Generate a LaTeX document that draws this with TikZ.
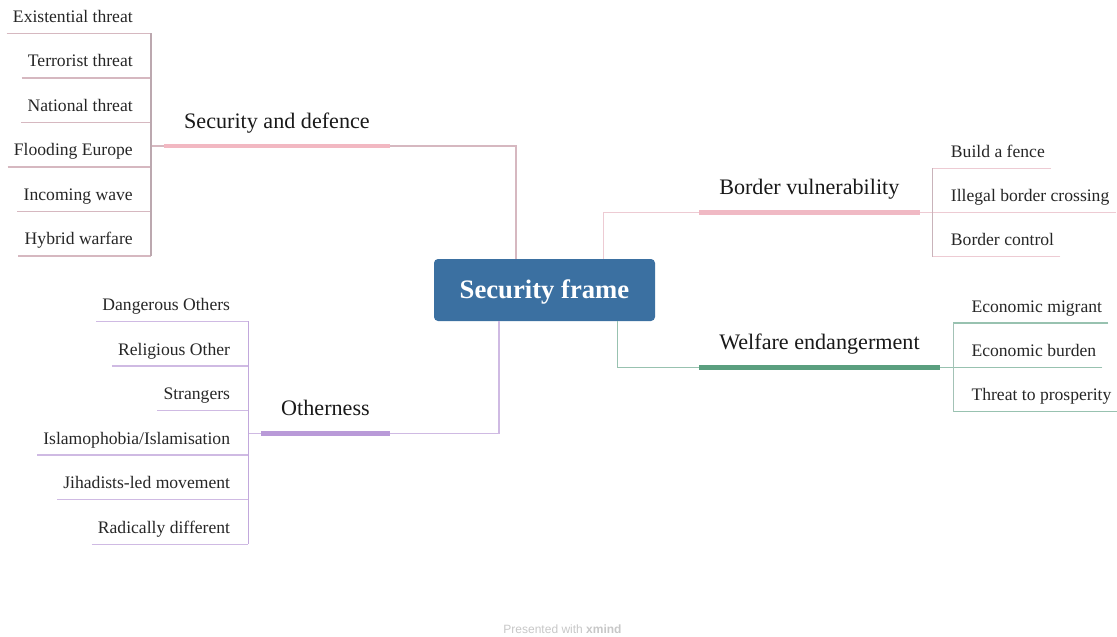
\documentclass[tikz,border=0pt]{standalone}
\usepackage{fontspec}
\setmainfont{Liberation Serif}
\setsansfont{Liberation Sans}

\definecolor{framebg}{HTML}{3B70A1}
\definecolor{sdbar}{HTML}{F2B8C2}
\definecolor{sdline}{HTML}{D6B8C0}
\definecolor{sdedge}{HTML}{BCA8AF}
\definecolor{bvbar}{HTML}{F0B9C4}
\definecolor{bvline}{HTML}{EDCBD3}
\definecolor{bvedge}{HTML}{C9B3BA}
\definecolor{webar}{HTML}{5A9F7F}
\definecolor{weline}{HTML}{98C2B0}
\definecolor{weedge}{HTML}{A3C2B6}
\definecolor{otbar}{HTML}{B99AD8}
\definecolor{otline}{HTML}{CFBAE3}
\definecolor{otedge}{HTML}{C2A8DC}

\begin{document}
\begin{tikzpicture}[x=0.75pt,y=-0.75pt,
  frame/.style={rectangle, rounded corners=3pt, fill=framebg, text=white,
    minimum width=165.75pt, minimum height=46.5pt,
    text height=12.4pt, text depth=0pt,
    font=\bfseries\fontsize{20}{24}\selectfont},
  topic/.style={inner xsep=15pt, inner ysep=0pt, minimum height=37.5pt,
    text height=11pt, text depth=0pt,
    text=black!90, font=\fontsize{16.6}{19}\selectfont},
  leaf/.style={inner xsep=4.5pt, inner ysep=0pt, minimum height=24.75pt,
    text height=8.9pt, text depth=0pt,
    text=black!85, font=\fontsize{13.2}{15}\selectfont},
  thin/.style={line width=1.1pt},
  bar/.style={line width=3.4pt}]
\useasboundingbox (0,0) rectangle (1117,636);

\node[frame] (frame) at (544.5,290) {Security frame};

% Security and defence
\coordinate (sdk) at (516,146);
\coordinate (sdj) at (151,146);
\node[topic, anchor=south east] (sd) at (390,146) {Security and defence};
\draw[thin, sdline] (frame.north -| sdk) -- (sdk) -- (sdj);
\draw[bar, sdbar] (sd.south west) -- (sd.south east);

\node[leaf, anchor=south east] (sd1) at (139,33.3) {Existential threat};
\node[leaf, anchor=south east] (sd2) at (139,77.8) {Terrorist threat};
\node[leaf, anchor=south east] (sd3) at (139,122.3) {National threat};
\node[leaf, anchor=south east] (sd4) at (139,166.8) {Flooding Europe};
\node[leaf, anchor=south east] (sd5) at (139,211.3) {Incoming wave};
\node[leaf, anchor=south east] (sd6) at (139,255.8) {Hybrid warfare};
\draw[thin, sdline] (sd1.south west) -- (sd1.south west -| sdj)
  (sd2.south west) -- (sd2.south west -| sdj)
  (sd3.south west) -- (sd3.south west -| sdj)
  (sd4.south west) -- (sd4.south west -| sdj)
  (sd5.south west) -- (sd5.south west -| sdj)
  (sd6.south west) -- (sd6.south west -| sdj);
\draw[thin, sdedge] (sd1.south west -| sdj) -- (sd6.south west -| sdj);

% Border vulnerability
\coordinate (bvk) at (603.3,212.5);
\coordinate (bvj) at (932.7,212.5);
\node[topic, anchor=south west] (bv) at (699,212.5) {Border vulnerability};
\draw[thin, bvline] (frame.north -| bvk) -- (bvk) -- (bvj);
\draw[bar, bvbar] (bv.south west) -- (bv.south east);

\node[leaf, anchor=south west] (bv1) at (944.7,168.3) {Build a fence};
\node[leaf, anchor=south west] (bv2) at (944.7,212.5) {Illegal border crossing};
\node[leaf, anchor=south west] (bv3) at (944.7,256.7) {Border control};
\draw[thin, bvline] (bv1.south east) -- (bv1.south east -| bvj)
  (bv2.south east) -- (bv2.south east -| bvj)
  (bv3.south east) -- (bv3.south east -| bvj);
\draw[thin, bvedge] (bv1.south east -| bvj) -- (bv3.south east -| bvj);

% Welfare endangerment
\coordinate (wek) at (617.7,367.3);
\coordinate (wej) at (953.3,367.3);
\node[topic, anchor=south west] (we) at (699,367.3) {Welfare endangerment};
\draw[thin, weline] (frame.south -| wek) -- (wek) -- (wej);
\draw[bar, webar] (we.south west) -- (we.south east);

\node[leaf, anchor=south west] (we1) at (965.3,322.9) {Economic migrant};
\node[leaf, anchor=south west] (we2) at (965.3,367.3) {Economic burden};
\node[leaf, anchor=south west] (we3) at (965.3,411.7) {Threat to prosperity};
\draw[thin, weline] (we1.south east) -- (we1.south east -| wej)
  (we2.south east) -- (we2.south east -| wej)
  (we3.south east) -- (we3.south east -| wej);
\draw[thin, weedge] (we1.south east -| wej) -- (we3.south east -| wej);

% Otherness
\coordinate (otk) at (499,433.7);
\coordinate (otj) at (248.3,433.7);
\node[topic, anchor=south east] (ot) at (390,433.7) {Otherness};
\draw[thin, otline] (frame.south -| otk) -- (otk) -- (otj);
\draw[bar, otbar] (ot.south west) -- (ot.south east);

\node[leaf, anchor=south east] (ot1) at (236.3,321.3) {Dangerous Others};
\node[leaf, anchor=south east] (ot2) at (236.3,365.9) {Religious Other};
\node[leaf, anchor=south east] (ot3) at (236.3,410.5) {Strangers};
\node[leaf, anchor=south east] (ot4) at (236.3,455.1) {Islamophobia/Islamisation};
\node[leaf, anchor=south east] (ot5) at (236.3,499.7) {Jihadists-led movement};
\node[leaf, anchor=south east] (ot6) at (236.3,544.3) {Radically different};
\draw[thin, otline] (ot1.south west) -- (ot1.south west -| otj)
  (ot2.south west) -- (ot2.south west -| otj)
  (ot3.south west) -- (ot3.south west -| otj)
  (ot4.south west) -- (ot4.south west -| otj)
  (ot5.south west) -- (ot5.south west -| otj)
  (ot6.south west) -- (ot6.south west -| otj);
\draw[thin, otedge] (ot1.south west -| otj) -- (ot6.south west -| otj);

\node[text=black!22, font=\sffamily\fontsize{9}{10}\selectfont] (credit) at (562.5,629) {Presented with \textbf{xmind}};

\end{tikzpicture}
\end{document}
